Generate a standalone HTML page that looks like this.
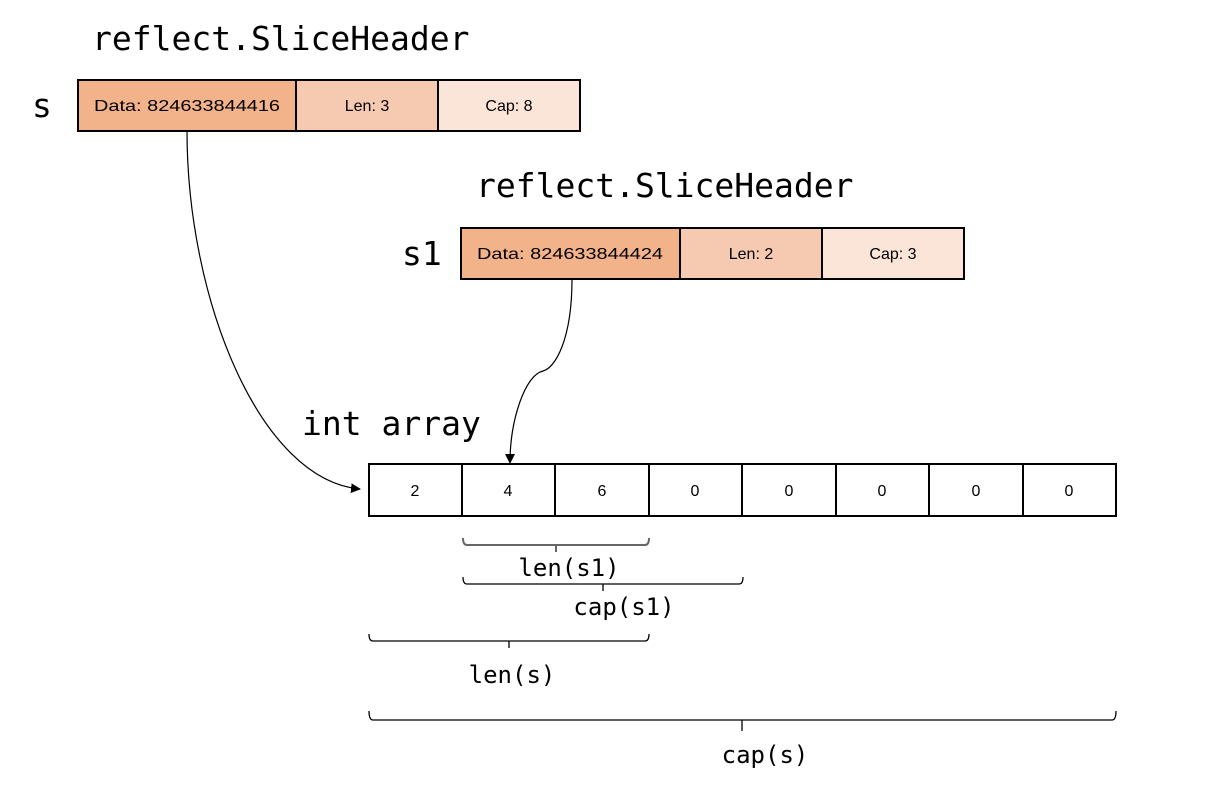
<!DOCTYPE html>
<html><head><meta charset="utf-8"><style>html,body{margin:0;padding:0;background:#fff}svg{display:block}</style></head>
<body>
<svg width="1216" height="804" viewBox="0 0 1216 804" xmlns="http://www.w3.org/2000/svg">
<defs><marker id="a" markerWidth="10" markerHeight="10" refX="9" refY="5" orient="auto" markerUnits="userSpaceOnUse"><path d="M0,0 L10,5 L0,10 z" fill="#000"/></marker></defs>
<g font-family="'DejaVu Sans Mono', 'Liberation Mono', monospace" fill="#000">
<text x="92" y="50" font-size="33">reflect.SliceHeader</text>
<text x="32" y="117" font-size="33">s</text>
<text x="476" y="197" font-size="33">reflect.SliceHeader</text>
<text x="402" y="265" font-size="33">s1</text>
<text x="302" y="435" font-size="33">int array</text>
<g font-size="24" text-anchor="middle">
<text x="569" y="576">len(s1)</text>
<text x="624" y="615">cap(s1)</text>
<text x="512" y="683">len(s)</text>
<text x="765" y="763">cap(s)</text>
</g>
</g>
<g stroke="#000" stroke-width="2">
<rect x="78" y="80" width="218" height="51" fill="#f2b28a"/>
<rect x="296" y="80" width="142" height="51" fill="#f6cab0"/>
<rect x="438" y="80" width="142" height="51" fill="#fbe5d8"/>
<rect x="461" y="228" width="219" height="51" fill="#f2b28a"/>
<rect x="680" y="228" width="142" height="51" fill="#f6cab0"/>
<rect x="822" y="228" width="142" height="51" fill="#fbe5d8"/>
<rect x="369" y="464" width="747" height="52" fill="#fff"/>
<path d="M462,464V516M555,464V516M649,464V516M742,464V516M836,464V516M929,464V516M1023,464V516" fill="none"/>
</g>
<g font-family="'Liberation Sans', sans-serif" font-size="16" text-anchor="middle" fill="#000">
<text x="187" y="111" textLength="186" lengthAdjust="spacingAndGlyphs">Data: 824633844416</text>
<text x="367" y="111">Len: 3</text>
<text x="509" y="111">Cap: 8</text>
<text x="570" y="259" textLength="186" lengthAdjust="spacingAndGlyphs">Data: 824633844424</text>
<text x="751" y="259">Len: 2</text>
<text x="893" y="259">Cap: 3</text>
<text x="415" y="496">2</text><text x="508" y="496">4</text><text x="602" y="496">6</text>
<text x="695" y="496">0</text><text x="789" y="496">0</text><text x="882" y="496">0</text>
<text x="976" y="496">0</text><text x="1069" y="496">0</text>
</g>
<g fill="none" stroke="#000" stroke-width="1.2">
<path d="M187,131 C187,300 260,480 360,489" marker-end="url(#a)"/>
<path d="M572,279 C572,340 555,368 543,371 C525,375 510,420 510,463" marker-end="url(#a)"/>
</g>
<g fill="none" stroke="#000" stroke-width="1.3">
<path d="M463,538 Q463,545 467,545 L645,545 Q649,545 649,538 M556,545 V552" stroke="#666" stroke-width="2"/>
<path d="M463,577 Q463,584 467,584 L739,584 Q743,584 743,577 M603,584 V591"/>
<path d="M369,634 Q369,641 373,641 L645,641 Q649,641 649,634 M509,641 V648"/>
<path d="M369,711 Q369,720 373,720 L1112,720 Q1116,720 1116,711 M742,720 V731"/>
</g>
</svg>
</body></html>
